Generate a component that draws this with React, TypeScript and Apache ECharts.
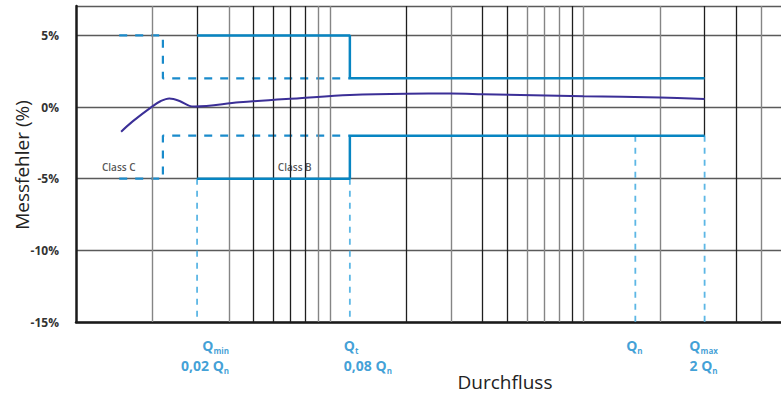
import React, { useEffect, useRef } from 'react';
import * as echarts from 'echarts';

// ---- data ----
const yTicks = [-15, -10, -5, 0, 5];
const xRange = [0.05, 30];
const yRange = [-15, 7.05];

// vertical log grid lines (two shades in the reference)
const gridDarkX = [0.25, 0.3, 0.35, 0.4, 1, 2, 2.5, 4.5, 20];
const gridLightX = [0.1, 0.2, 0.45, 0.5, 1.5, 3, 3.5, 4, 5, 10, 25];
// grid lines that stop at the tolerance step
const gridPartialX = [0.15, 15];
const gridPartialBottom = [-5, -2];

// measured error curve
const curveX = [0.0753, 0.0836, 0.1, 0.108, 0.1166, 0.128, 0.14, 0.147, 0.22, 0.38, 0.6, 1, 1.5, 2, 5, 10, 15];
const curveY = [-1.72, -1.0, 0.05, 0.42, 0.6, 0.42, 0.08, 0.04, 0.33, 0.62, 0.84, 0.93, 0.94, 0.9, 0.76, 0.66, 0.56];

// Class B limits (solid)
const classBX = [0.15, 0.6, 0.6, 15];
const classBUpper = [5, 5, 2, 2];
const classBLower = [-5, -5, -2, -2];

// Class C limits (dashed)
const classCX = [0.074, 0.11, 0.11, 0.6];
const classCUpper = [5, 5, 2, 2];
const classCLower = [-5, -5, -2, -2];

// flow markers
const flowX = [0.15, 0.6, 8, 15];
const flowTop = [-5, -5, -2, -2];
const flowLine1 = ['Q{s|min}', 'Q{s|t}', 'Q{s|n}', 'Q{s|max}'];
const flowLine2 = ['0,02 Q{s|n}', '0,08 Q{s|n}', '', '2 Q{s|n}'];

// class labels
const classLabels = ['Class C', 'Class B'];
const classLabelX = [0.0737, 0.364];
const classLabelY = [-4.15, -4.15];

// axis titles
const yTitle = 'Messfehler (%)';
const xTitle = 'Durchfluss';

// ---- styles ----
const FONT = '"Open Sans", "Noto Sans", sans-serif';
const BLUE_TEXT = '#0f88cc';
const flowAlign = ['right', 'left', 'center', 'center'];
const flowDx = [32, -6, -1, -1];

export default function App() {
  const ref = useRef<HTMLDivElement>(null);
  useEffect(() => {
    if (!ref.current) return;
    const chart = echarts.init(ref.current, null, { renderer: 'svg' });

    const rich = {
      q: { fontSize: 14, fontWeight: 700, color: BLUE_TEXT, fontFamily: FONT, lineHeight: 18 },
      s: { fontSize: 8, fontWeight: 700, color: BLUE_TEXT, fontFamily: FONT, verticalAlign: 'bottom', lineHeight: 11 },
    };

    const wrapQ = (t: string) => t.replace(/([^{}|]+)(?=\{|$)/g, (m) => `{q|${m}}`);

    const labelItems: any[] = [];
    flowX.forEach((x, i) => {
      labelItems.push({
        value: [x, yRange[0]],
        label: {
          show: true,
          position: 'inside',
          align: flowAlign[i],
          verticalAlign: 'middle',
          offset: [flowDx[i], 23],
          formatter: wrapQ(flowLine1[i]),
          rich,
        },
      });
      if (flowLine2[i]) {
        labelItems.push({
          value: [x, yRange[0]],
          label: {
            show: true,
            position: 'inside',
            align: flowAlign[i],
            verticalAlign: 'middle',
            offset: [flowDx[i], 43],
            formatter: wrapQ(flowLine2[i]),
            rich,
          },
        });
      }
    });

    const series: any[] = [
      {
        type: 'line',
        data: [],
        z: 1,
        silent: true,
        markLine: {
          silent: true,
          symbol: ['none', 'none'],
          label: { show: false },
          lineStyle: { color: '#858585', width: 1.4, type: 'solid' },
          data: gridLightX.map((v) => ({ xAxis: v })),
        },
      },
      {
        type: 'line',
        data: [],
        z: 1,
        silent: true,
        markLine: {
          silent: true,
          symbol: ['none', 'none'],
          label: { show: false },
          lineStyle: { color: '#1e1e1e', width: 1.3, type: 'solid' },
          data: [
            ...gridDarkX.map((v) => ({ xAxis: v })),
            ...gridPartialX.map((v, i) => [
              { coord: [v, gridPartialBottom[i]] },
              { coord: [v, yRange[1]] },
            ]),
          ],
        },
      },
      ...flowX.map((x, i) => ({
        type: 'line',
        z: 3,
        silent: true,
        symbol: 'none',
        data: [
          [x, flowTop[i]],
          [x, yRange[0]],
        ],
        lineStyle: { color: '#5db7e5', width: 1.8, type: [6, 6] },
      })),
      {
        type: 'line',
        z: 4,
        symbol: 'none',
        data: classCX.map((x, i) => [x, classCUpper[i]]),
        lineStyle: { color: '#1a8bcb', width: 2.2, type: [8, 8] },
      },
      {
        type: 'line',
        z: 4,
        symbol: 'none',
        data: classCX.map((x, i) => [x, classCLower[i]]),
        lineStyle: { color: '#1a8bcb', width: 2.2, type: [8, 8] },
      },
      {
        type: 'line',
        z: 5,
        symbol: 'none',
        data: classBX.map((x, i) => [x, classBUpper[i]]),
        lineStyle: { color: '#0785c2', width: 2.5 },
      },
      {
        type: 'line',
        z: 5,
        symbol: 'none',
        data: classBX.map((x, i) => [x, classBLower[i]]),
        lineStyle: { color: '#0785c2', width: 2.5 },
      },
      {
        type: 'line',
        z: 6,
        symbol: 'none',
        smooth: 0.35,
        data: curveX.map((x, i) => [x, curveY[i]]),
        lineStyle: { color: '#3b2f97', width: 2 },
      },
      {
        type: 'scatter',
        z: 7,
        symbolSize: 1,
        itemStyle: { color: 'rgba(0,0,0,0)' },
        data: labelItems,
      },
      {
        type: 'scatter',
        z: 7,
        symbolSize: 1,
        itemStyle: { color: 'rgba(0,0,0,0)' },
        data: classLabels.map((t, i) => ({
          value: [classLabelX[i], classLabelY[i]],
          label: {
            show: true,
            position: 'inside',
            formatter: t,
            color: '#2a2a2a',
            fontSize: 10,
            fontWeight: 600,
            fontFamily: FONT,
          },
        })),
      },
    ];

    chart.setOption({
      animation: false,
      grid: { left: 76, right: 0, top: 6, bottom: 74, containLabel: false, outerBoundsMode: 'none' },
      xAxis: {
        type: 'log',
        logBase: 10,
        min: xRange[0],
        max: xRange[1],
        axisLine: { show: true, onZero: false, lineStyle: { color: '#1a1a1a', width: 2.5 } },
        axisTick: { show: false },
        axisLabel: { show: false },
        splitLine: { show: false },
        minorTick: { show: false },
        minorSplitLine: { show: false },
      },
      yAxis: {
        type: 'value',
        min: yRange[0],
        max: yRange[1],
        interval: 5,
        axisLine: { show: true, onZero: false, lineStyle: { color: '#1a1a1a', width: 2.5 } },
        axisTick: { show: false },
        axisLabel: {
          formatter: (v: number) => (yTicks.includes(v) ? `${v}%` : ''),
          color: '#333',
          fontSize: 12,
          fontWeight: 'bold',
          fontFamily: FONT,
          margin: 17,
        },
        splitLine: { show: true, lineStyle: { color: '#5a5a5a', width: 1.4 } },
      },
      graphic: [
        {
          type: 'text',
          x: 22,
          y: 165,
          rotation: Math.PI / 2,
          style: {
            text: yTitle,
            fontSize: 19,
            fill: '#222',
            fontFamily: FONT,
            textAlign: 'center',
            textVerticalAlign: 'middle',
          },
        },
        {
          type: 'text',
          x: 505,
          y: 382,
          style: {
            text: xTitle,
            fontSize: 19,
            fill: '#222',
            fontFamily: FONT,
            textAlign: 'center',
            textVerticalAlign: 'middle',
          },
        },
      ],
      series,
    });
    return () => chart.dispose();
  }, []);
  return (
    <div
      ref={ref}
      style={{ position: 'fixed', left: 0, top: 0, width: 781, height: 396, background: '#fff' }}
    />
  );
}
